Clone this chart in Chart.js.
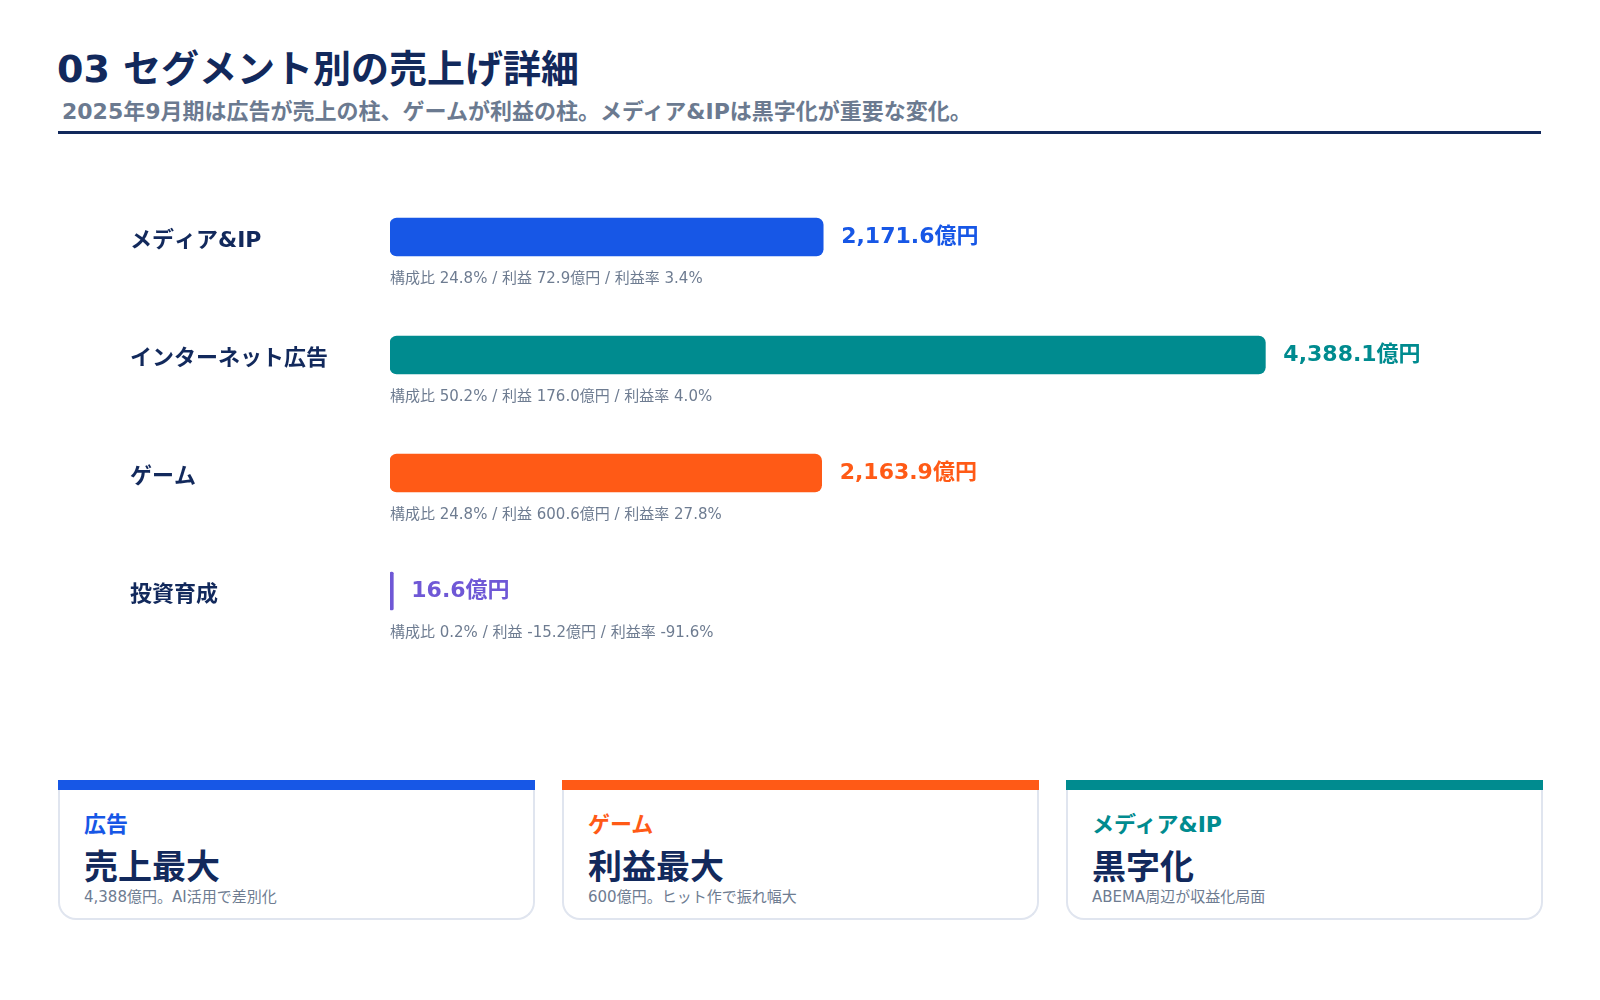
<!DOCTYPE html>
<html lang="ja">
<head>
<meta charset="utf-8">
<script src="https://cdn.jsdelivr.net/npm/chart.js@4.4.1/dist/chart.umd.min.js"></script>
<style>
  html, body { margin: 0; padding: 0; background: #ffffff; }
  body { width: 1600px; height: 1000px; position: relative; overflow: hidden;
         font-family: "DejaVu Sans", "Noto Sans CJK JP", sans-serif; }
  .abs { position: absolute; white-space: nowrap; }
  #title { left: 57px; top: 50px; font-size: 38px; line-height: 38px; font-weight: 700; color: #12295c; }
  #subtitle { left: 62px; top: 101px; font-size: 22px; line-height: 22px; font-weight: 700; color: #6b7a90; }
  #rule { left: 58px; top: 131px; width: 1483px; height: 3px; background: #12295c; }
  #chartBox { left: 130px; top: 178px; width: 1417px; height: 472px; }
  .card { position: absolute; top: 780px; height: 140px; width: 477px; }
  .card .accent { position: absolute; left: 0; top: 0; right: 0; height: 10px; }
  .card .body { position: absolute; left: 0; right: 0; top: 10px; bottom: 0; box-sizing: border-box;
                border: 2px solid #e0e5ef; border-top: none; border-radius: 0 0 18px 18px; }
  .card .lab { position: absolute; left: 26px; top: 34px; font-size: 22px; line-height: 22px; font-weight: 700; white-space: nowrap; }
  .card .big { position: absolute; left: 26px; top: 70px; font-size: 34px; line-height: 34px; font-weight: 700; color: #12295c; white-space: nowrap; }
  .card .sub { position: absolute; left: 26px; top: 110px; font-size: 15px; line-height: 15px; color: #6e7c91; white-space: nowrap; }
</style>
</head>
<body>
<div id="title" class="abs">03 セグメント別の売上げ詳細</div>
<div id="subtitle" class="abs">2025年9月期は広告が売上の柱、ゲームが利益の柱。メディア&amp;IPは黒字化が重要な変化。</div>
<div id="rule" class="abs"></div>
<div id="chartBox" class="abs"><canvas id="c" width="1417" height="472"></canvas></div>
<div id="cards"></div>

<script>
// ---- Data ----
const segments = ["メディア&IP", "インターネット広告", "ゲーム", "投資育成"];
const sales = [2171.6, 4388.1, 2163.9, 16.6];          // 億円
const shares = [24.8, 50.2, 24.8, 0.2];                 // 構成比 %
const profits = [72.9, 176.0, 600.6, -15.2];            // 利益 億円
const margins = [3.4, 4.0, 27.8, -91.6];                // 利益率 %
const barColors = ["#1757e6", "#008b8f", "#ff5a16", "#6f58d6"];

const cardLabels = ["広告", "ゲーム", "メディア&IP"];
const cardHeads = ["売上最大", "利益最大", "黒字化"];
const cardNotes = ["4,388億円。AI活用で差別化", "600億円。ヒット作で振れ幅大", "ABEMA周辺が収益化局面"];
const cardColors = ["#1757e6", "#ff5a16", "#008b8f"];

// ---- Cards ----
const cardsEl = document.getElementById('cards');
const cardLefts = [58, 562, 1066];
cardLabels.forEach((lab, i) => {
  const d = document.createElement('div');
  d.className = 'card';
  d.style.left = cardLefts[i] + 'px';
  d.innerHTML = `<div class="accent" style="background:${cardColors[i]}"></div><div class="body"></div>` +
    `<div class="lab" style="color:${cardColors[i]}"></div><div class="big"></div><div class="sub"></div>`;
  d.querySelector('.lab').textContent = lab;
  d.querySelector('.big').textContent = cardHeads[i];
  d.querySelector('.sub').textContent = cardNotes[i];
  cardsEl.appendChild(d);
});

// ---- Chart ----
const FONT = '"DejaVu Sans", "Noto Sans CJK JP", sans-serif';
const fmt1 = v => v.toLocaleString('en-US', { minimumFractionDigits: 1, maximumFractionDigits: 1 });

const labelPlugin = {
  id: 'valueLabels',
  afterDatasetsDraw(chart) {
    const ctx = chart.ctx;
    const meta = chart.getDatasetMeta(0);
    const left = chart.chartArea.left;
    ctx.save();
    meta.data.forEach((bar, i) => {
      ctx.textBaseline = 'middle';
      ctx.textAlign = 'left';
      ctx.fillStyle = barColors[i];
      ctx.font = 'bold 22px ' + FONT;
      ctx.fillText(fmt1(sales[i]) + '億円', bar.x + 18, bar.y);
      ctx.fillStyle = '#6e7c91';
      ctx.font = '15px ' + FONT;
      const t = `構成比 ${shares[i].toFixed(1)}% / 利益 ${profits[i].toFixed(1)}億円 / 利益率 ${margins[i].toFixed(1)}%`;
      ctx.fillText(t, left, bar.y + 42);
    });
    ctx.restore();
  }
};

new Chart(document.getElementById('c'), {
  type: 'bar',
  data: {
    labels: segments,
    datasets: [{
      data: sales,
      backgroundColor: barColors,
      barThickness: 38,
      borderRadius: 7,
      borderSkipped: false
    }]
  },
  options: {
    indexAxis: 'y',
    responsive: false,
    animation: false,
    devicePixelRatio: 1,
    layout: { padding: 0 },
    plugins: { legend: { display: false }, tooltip: { enabled: false } },
    scales: {
      x: { display: false, min: 0, max: 5800 },
      y: {
        grid: { display: false },
        border: { display: false },
        afterFit(scale) { scale.width = 260; scale.paddingTop = 0; scale.paddingBottom = 0; },
        ticks: {
          crossAlign: 'far',
          labelOffset: 4,
          color: '#12295c',
          font: { family: FONT, size: 22, weight: 'bold' }
        }
      }
    }
  },
  plugins: [labelPlugin]
});
</script>
</body>
</html>
